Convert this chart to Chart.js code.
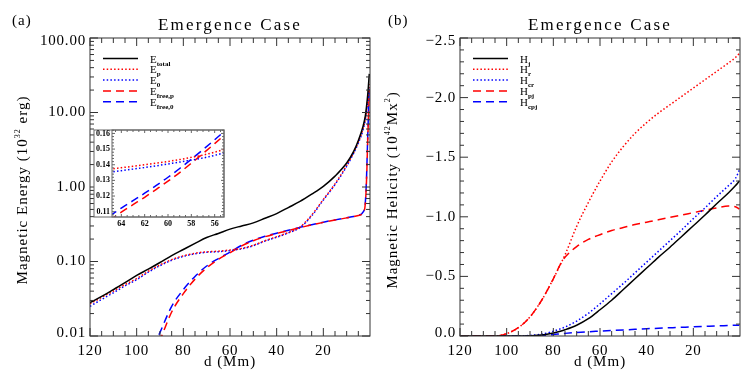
<!DOCTYPE html>
<html>
<head>
<meta charset="utf-8">
<script src="https://cdn.jsdelivr.net/npm/chart.js@4.4.1/dist/chart.umd.min.js"></script>
<style>
  body { margin: 0; background: #fff; }
  #wrap { position: relative; width: 747px; height: 374px; }
  canvas { position: absolute; left: 0; top: 0; }
</style>
</head>
<body>
<div id="wrap">
  <canvas id="energy" width="747" height="374"></canvas>
  <canvas id="helicity" width="747" height="374"></canvas>
  <canvas id="inset" width="747" height="374"></canvas>
</div>
<script>
// ---- data ----
const dEnergy = [120, 115, 110, 105, 100, 95, 90, 85, 80, 75, 70, 65, 60, 55, 50, 45, 40, 35, 30, 25, 20, 15, 10, 7, 5, 3, 2, 1.5, 1, 0.3];
const eTotal = [0.028, 0.034, 0.042, 0.052, 0.065, 0.079, 0.097, 0.12, 0.145, 0.175, 0.21, 0.238, 0.272, 0.30, 0.33, 0.38, 0.44, 0.53, 0.64, 0.80, 1.02, 1.4, 2.1, 3.0, 4.2, 6.5, 9, 12, 17, 33];
const eP = [0.027, 0.033, 0.040, 0.049, 0.059, 0.074, 0.090, 0.106, 0.119, 0.129, 0.135, 0.1375, 0.1425, 0.150, 0.165, 0.19, 0.215, 0.245, 0.29, 0.42, 0.68, 1.1, 1.95, 2.9, 4.0, 6.0, 8.2, 10.5, 14, 24];
const e0 = [0.025, 0.031, 0.038, 0.047, 0.057, 0.072, 0.088, 0.104, 0.117, 0.127, 0.133, 0.1355, 0.140, 0.148, 0.163, 0.188, 0.212, 0.242, 0.285, 0.41, 0.67, 1.08, 1.9, 2.85, 3.9, 5.8, 8.0, 10.2, 13.5, 22];
const eFreeP = [null, null, null, null, null, 0.004, 0.0088, 0.021, 0.037, 0.058, 0.082, 0.107, 0.131, 0.162, 0.19, 0.215, 0.238, 0.26, 0.285, 0.31, 0.335, 0.36, 0.385, 0.40, 0.415, 0.45, 0.6, 1.2, 4, 20];
const eFree0 = [null, null, null, null, null, 0.005, 0.0112, 0.025, 0.042, 0.063, 0.087, 0.1095, 0.1335, 0.165, 0.193, 0.218, 0.24, 0.262, 0.287, 0.312, 0.337, 0.362, 0.387, 0.402, 0.417, 0.46, 0.62, 1.3, 4.5, 22];

const dInset = [65, 64, 63, 62, 61, 60, 59, 58, 57, 56, 55];
const insetP = [0.1372, 0.1381, 0.1390, 0.1400, 0.1410, 0.1421, 0.1433, 0.1447, 0.1462, 0.1480, 0.1503];
const inset0 = [0.1352, 0.1362, 0.1372, 0.1382, 0.1393, 0.1405, 0.1417, 0.1430, 0.1443, 0.1460, 0.1480];
const insetFreeP = [0.1045, 0.1097, 0.1145, 0.1192, 0.1243, 0.1295, 0.1350, 0.1410, 0.1472, 0.1535, 0.1600];
const insetFree0 = [0.1072, 0.1123, 0.1170, 0.1218, 0.1268, 0.1320, 0.1376, 0.1435, 0.1497, 0.1560, 0.1625];

const dHel = [120, 110, 105, 100, 95, 90, 85, 80, 77, 75, 70, 65, 60, 55, 50, 45, 40, 35, 30, 25, 20, 15, 10, 5, 2, 0.3];
const hJ = [0, 0, 0, 0, 0, -0.002, -0.008, -0.025, -0.04, -0.052, -0.09, -0.145, -0.22, -0.30, -0.39, -0.48, -0.57, -0.66, -0.745, -0.835, -0.925, -1.015, -1.11, -1.20, -1.26, -1.30];
const hR = [0, 0, 0, -0.02, -0.07, -0.16, -0.30, -0.48, -0.60, -0.68, -0.92, -1.12, -1.30, -1.46, -1.59, -1.70, -1.79, -1.87, -1.94, -2.01, -2.08, -2.15, -2.22, -2.29, -2.335, -2.37];
const hCr = [0, 0, 0, 0, 0, -0.005, -0.015, -0.04, -0.06, -0.075, -0.125, -0.19, -0.27, -0.355, -0.44, -0.53, -0.62, -0.71, -0.80, -0.89, -0.985, -1.075, -1.17, -1.26, -1.32, -1.39];
const hPj = [0, 0, 0, -0.02, -0.07, -0.16, -0.30, -0.48, -0.60, -0.66, -0.75, -0.81, -0.85, -0.885, -0.91, -0.935, -0.955, -0.975, -0.995, -1.015, -1.035, -1.055, -1.075, -1.09, -1.085, -1.065];
const hCpj = [0, 0, 0, 0, 0, 0, -0.004, -0.012, -0.018, -0.022, -0.03, -0.036, -0.041, -0.046, -0.051, -0.056, -0.061, -0.065, -0.069, -0.073, -0.077, -0.081, -0.085, -0.088, -0.09, -0.091];

const energyNames = [["E", "total"], ["E", "p"], ["E", "0"], ["E", "free,p"], ["E", "free,0"]];
const helicityNames = [["H", "j"], ["H", "r"], ["H", "cr"], ["H", "pj"], ["H", "cpj"]];

const distTicks = [120, 100, 80, 60, 40, 20];
const distLabels = ["120", "100", "80", "60", "40", "20"];
const energyTicks = [100, 10, 1, 0.1, 0.01];
const energyLabels = ["100.00", "10.00", "1.00", "0.10", "0.01"];
const helTicks = [-2.5, -2.0, -1.5, -1.0, -0.5, 0];
const helLabels = ["\u22122.5", "\u22122.0", "\u22121.5", "\u22121.0", "\u22120.5", "0.0"];
const insetXTicks = [64, 62, 60, 58, 56];
const insetXLabels = ["64", "62", "60", "58", "56"];
const insetYTicks = [0.11, 0.12, 0.13, 0.14, 0.15, 0.16];
const insetYLabels = ["0.11", "0.12", "0.13", "0.14", "0.15", "0.16"];

// ---- styles ----
const SERIF = '"Liberation Serif", "DejaVu Serif", serif';
const RED = "#ff0000";
const BLUE = "#0000ff";
const DOT = [1.5, 2.2];
const DASH = [8, 5];
const lineStyles = [
  { color: "#000000", dash: [] },
  { color: RED, dash: DOT },
  { color: BLUE, dash: DOT },
  { color: RED, dash: DASH },
  { color: BLUE, dash: DASH }
];

function pts(xs, ys) {
  return xs.map((x, i) => ({ x: x, y: ys[i] }));
}

function series(xs, list, width) {
  return list.map((ys, i) => ({
    data: pts(xs, ys),
    borderColor: lineStyles[i].color,
    borderDash: lineStyles[i].dash,
    borderWidth: width,
    pointRadius: 0,
    fill: false,
    cubicInterpolationMode: "monotone"
  }));
}

function font(p) {
  return (p.bold ? "bold " : "") + p.size + "px " + SERIF;
}

function richText(ctx, parts, x, y, align) {
  let w = 0;
  parts.forEach(p => { ctx.font = font(p); w += ctx.measureText(p.t).width; });
  let cx = align === "center" ? x - w / 2 : x;
  parts.forEach(p => {
    ctx.font = font(p);
    ctx.fillText(p.t, cx, y + (p.dy || 0));
    cx += ctx.measureText(p.t).width;
  });
}

// frame, inward ticks, tick labels (IDL look)
const idlAxes = {
  id: "idlAxes",
  beforeDraw(chart, args, o) {
    if (!o.outer) return;
    const ctx = chart.ctx;
    const r = o.outer;
    ctx.save();
    ctx.fillStyle = "#fff";
    ctx.fillRect(r[0], r[1], r[2] - r[0], r[3] - r[1] + 12);
    ctx.restore();
  },
  afterDatasetsDraw(chart, args, o) {
    const { ctx, chartArea: a, scales: { x, y } } = chart;
    ctx.save();
    ctx.strokeStyle = o.color;
    ctx.lineWidth = 1;
    ctx.setLineDash([]);
    ctx.beginPath();
    const seg = (x1, y1, x2, y2) => { ctx.moveTo(x1, y1); ctx.lineTo(x2, y2); };
    const xt = (v, len) => { const p = x.getPixelForValue(v); seg(p, a.bottom, p, a.bottom - len); seg(p, a.top, p, a.top + len); };
    const yt = (v, len) => { const p = y.getPixelForValue(v); seg(a.left, p, a.left + len, p); seg(a.right, p, a.right - len, p); };
    o.xMinor.forEach(v => xt(v, o.xMinorLen));
    o.xMajor.forEach(v => xt(v, o.majorLen));
    o.yMinor.forEach(v => yt(v, o.yMinorLen));
    o.yMajor.forEach(v => yt(v, o.majorLen));
    ctx.stroke();
    ctx.strokeRect(a.left, a.top, a.right - a.left, a.bottom - a.top);
    if (o.outer) {
      const r = o.outer;
      ctx.strokeRect(r[0], r[1], r[2] - r[0], r[3] - r[1]);
    }
    ctx.fillStyle = "#000";
    ctx.font = o.font;
    ctx.letterSpacing = o.spacing;
    ctx.textBaseline = "middle";
    ctx.textAlign = "center";
    o.xMajor.forEach((v, i) => ctx.fillText(o.xText[i], x.getPixelForValue(v), a.bottom + o.xGap));
    ctx.textAlign = "right";
    o.yMajor.forEach((v, i) => {
      let p = y.getPixelForValue(v);
      // labels at the very ends sit a little inside, as IDL draws them
      if (Math.abs(p - a.top) < 1) p += o.endShift;
      if (Math.abs(p - a.bottom) < 1) p -= o.endShift;
      ctx.fillText(o.yText[i], a.left - o.yGap, p);
    });
    ctx.restore();
  }
};

// titles, panel tag, axis titles and legend
const idlText = {
  id: "idlText",
  afterDraw(chart, args, o) {
    if (!o.title) return;
    const { ctx, chartArea: a } = chart;
    const mid = (a.left + a.right) / 2;
    ctx.save();
    ctx.fillStyle = "#000";
    ctx.textBaseline = "alphabetic";
    ctx.letterSpacing = "2.2px";
    richText(ctx, [{ t: o.title, size: 17 }], mid, 30, "center");
    ctx.letterSpacing = "1px";
    richText(ctx, [{ t: o.tag, size: 15 }], o.tagX, 25, "left");
    richText(ctx, [{ t: "d (Mm)", size: 15 }], mid, 366, "center");
    ctx.save();
    ctx.translate(a.left - 63, 190);
    ctx.rotate(-Math.PI / 2);
    richText(ctx, o.yTitle, 0, 0, "center");
    ctx.restore();

    ctx.letterSpacing = "0px";
    o.names.forEach((nm, i) => {
      const ly = 58.5 + i * 10.8;
      ctx.beginPath();
      ctx.strokeStyle = lineStyles[i].color;
      ctx.lineWidth = 1.5;
      ctx.setLineDash(lineStyles[i].dash);
      ctx.moveTo(a.left + 13, ly);
      ctx.lineTo(a.left + 48, ly);
      ctx.stroke();
      richText(ctx, [{ t: nm[0], size: 11 }, { t: nm[1], size: 7, bold: true, dy: 3 }], a.left + 60, ly + 4, "left");
    });
    ctx.restore();
  }
};

Chart.register(idlAxes, idlText);

function minorList(from, to, step, skip) {
  const out = [];
  for (let v = from; v <= to + 1e-9; v += step) {
    const r = Math.round(v * 1000) / 1000;
    if (!skip(r)) out.push(r);
  }
  return out;
}

const distMinor = minorList(5, 115, 5, v => v % 20 === 0);
const energyMinor = [];
[0.01, 0.1, 1, 10].forEach(dec => { for (let m = 2; m <= 9; m++) energyMinor.push(m * dec); });
const helMinor = minorList(-2.4, -0.1, 0.1, v => Math.abs(v * 2 - Math.round(v * 2)) < 1e-6);

function baseOptions(pad, xScale, yScale, axes, text) {
  return {
    responsive: false,
    animation: false,
    events: [],
    layout: { padding: pad },
    scales: { x: xScale, y: yScale },
    plugins: {
      legend: { display: false },
      tooltip: { enabled: false },
      idlAxes: axes,
      idlText: text
    }
  };
}

const mainAxes = {
  color: "#333",
  majorLen: 8,
  xMinorLen: 5,
  yMinorLen: 4,
  xMajor: distTicks,
  xText: distLabels,
  xMinor: distMinor,
  font: "15px " + SERIF,
  spacing: "0.8px",
  xGap: 15,
  yGap: 4,
  endShift: 3
};

new Chart(document.getElementById("energy"), {
  type: "line",
  data: { datasets: series(dEnergy, [eTotal, eP, e0, eFreeP, eFree0], 1.5) },
  options: baseOptions(
    { left: 90, right: 377, top: 38, bottom: 38 },
    { type: "linear", display: false, min: 0, max: 120, reverse: true },
    { type: "logarithmic", display: false, min: 0.01, max: 100 },
    Object.assign({}, mainAxes, { yMajor: energyTicks, yText: energyLabels, yMinor: energyMinor }),
    {
      title: "Emergence Case",
      tag: "(a)",
      tagX: 12,
      names: energyNames,
      yTitle: [{ t: "Magnetic Energy (10", size: 15 }, { t: "32", size: 8, dy: -7 }, { t: " erg)", size: 15 }]
    }
  )
});

new Chart(document.getElementById("helicity"), {
  type: "line",
  data: { datasets: series(dHel, [hJ, hR, hCr, hPj, hCpj], 1.5) },
  options: baseOptions(
    { left: 460, right: 7, top: 38, bottom: 38 },
    { type: "linear", display: false, min: 0, max: 120, reverse: true },
    { type: "linear", display: false, min: -2.5, max: 0, reverse: true },
    Object.assign({}, mainAxes, { yMajor: helTicks, yText: helLabels, yMinor: helMinor }),
    {
      title: "Emergence Case",
      tag: "(b)",
      tagX: 388,
      names: helicityNames,
      yTitle: [{ t: "Magnetic Helicity (10", size: 15 }, { t: "42", size: 8, dy: -7 }, { t: "Mx", size: 15 }, { t: "2", size: 8, dy: -7 }, { t: ")", size: 15 }]
    }
  )
});

new Chart(document.getElementById("inset"), {
  type: "line",
  data: { datasets: series(dInset, [[], insetP, inset0, insetFreeP, insetFree0], 1.5) },
  options: baseOptions(
    { left: 112, right: 523, top: 130, bottom: 157 },
    { type: "linear", display: false, min: 55.2, max: 64.8, reverse: true },
    { type: "linear", display: false, min: 0.1066, max: 0.1622 },
    {
      color: "#666",
      outer: [94, 130, 224, 217],
      majorLen: 3,
      xMinorLen: 2,
      yMinorLen: 2,
      xMajor: insetXTicks,
      xText: insetXLabels,
      xMinor: minorList(55.5, 64.5, 0.5, v => v % 2 === 0),
      yMajor: insetYTicks,
      yText: insetYLabels,
      yMinor: minorList(0.108, 0.162, 0.002, v => Math.abs(v * 100 - Math.round(v * 100)) < 1e-6),
      font: "bold 8px " + SERIF,
      spacing: "0px",
      xGap: 7,
      yGap: 2,
      endShift: 0
    },
    {}
  )
});
</script>
</body>
</html>
